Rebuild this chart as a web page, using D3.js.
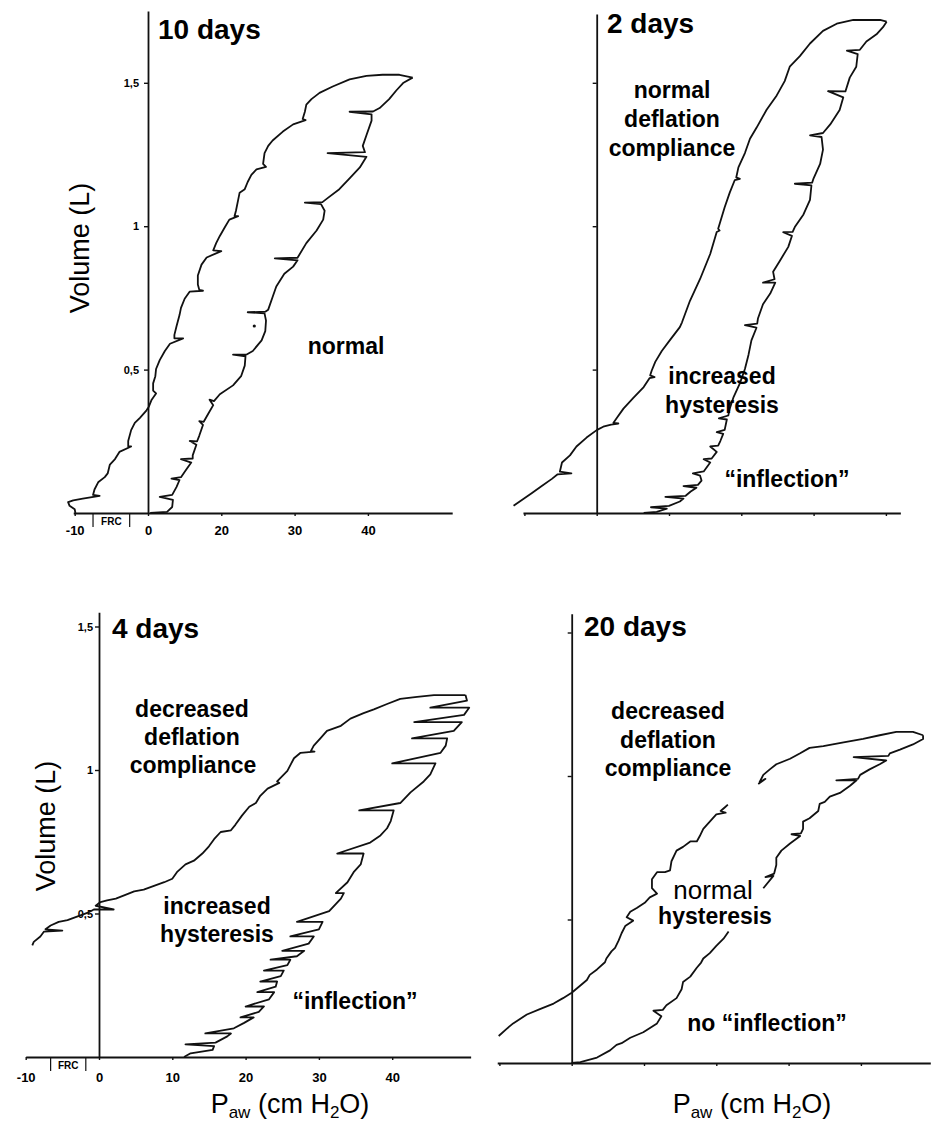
<!DOCTYPE html>
<html>
<head>
<meta charset="utf-8">
<script src="https://cdn.jsdelivr.net/npm/d3@7"></script>
<style>
body { margin: 0; background: #fff; }
svg { display: block; font-family: "Liberation Sans", Arial, sans-serif; }
</style>
</head>
<body>
<div id="chart"></div>
<script>
// Pressure-volume loops at 4 stages (P in cm H2O, V in L).
// Inflation limbs run from the bottom up to the tip, deflation limbs from the tip back down.

const yTickVals = [0.5, 1, 1.5];
const yTickLabels = ["0,5", "1", "1,5"];
const xTickVals10 = [-10, 0, 10, 20, 30];
const xTickLabels10 = ["-10", "0", "20", "30", "40"];   // as printed in the original panel
const xTickVals = [-10, 0, 10, 20, 30, 40];
const xTickLabels4 = ["-10", "0", "10", "20", "30", "40"];
const frc10 = [-7.5, -2.5];
const frc4 = [-6.6, -1.8];

const infl10 = [[0.3,0],[2.6,0.004],[3.3,0.021],[3.4,0.046],[1.6,0.056],[3.3,0.063],[3.9,0.091],[4.3,0.115],[3.2,0.12],[4.5,0.125],
  [5.2,0.151],[5.9,0.176],[4.5,0.188],[6.1,0.19],[6.1,0.201],[6.6,0.238],[5.7,0.251],[6.7,0.25],[7.0,0.27],[7.5,0.307],
  [7.0,0.32],[7.6,0.318],[8.2,0.345],[8.9,0.376],[8.4,0.395],[9.0,0.39],[9.8,0.414],[11.6,0.445],[12.7,0.477],[13.2,0.514],
  [13.3,0.546],[11.6,0.552],[13.4,0.552],[14.3,0.565],[15.5,0.602],[16.0,0.634],[16.1,0.671],[15.9,0.696],[13.6,0.7],[16.0,0.702],
  [16.4,0.709],[17.0,0.753],[17.5,0.79],[18.6,0.834],[19.8,0.859],[20.4,0.881],[17.3,0.888],[20.4,0.89],[21.6,0.941],[23.0,0.985],
  [23.9,1.023],[24.1,1.054],[23.6,1.077],[21.4,1.082],[23.8,1.084],[24.5,1.098],[26.1,1.129],[27.5,1.167],[28.9,1.205],[29.8,1.242],
  [24.5,1.255],[29.6,1.258],[29.3,1.28],[29.8,1.317],[30.5,1.368],[30.5,1.39],[27.5,1.399],[30.7,1.4],[31.6,1.412],[32.9,1.443],
  [33.9,1.474],[34.8,1.499],[36.1,1.518]];
const defl10 = [[36.1,1.518],[34.3,1.528],[32.0,1.528],[29.8,1.524],[27.5,1.512],[25.2,1.487],[23.4,1.465],[22.3,1.443],[21.6,1.424],
  [21.4,1.399],[21.1,1.374],[21.5,1.37],[19.8,1.355],[18.4,1.33],[17.0,1.299],[16.4,1.28],[15.9,1.255],[15.7,1.217],[16.1,1.207],
  [14.8,1.198],[14.1,1.179],[13.6,1.154],[13.2,1.129],[12.5,1.117],[12.3,1.092],[12.0,1.054],[11.8,1.035],[12.3,1.035],[11.1,1.023],
  [10.5,0.997],[9.8,0.966],[9.3,0.941],[8.9,0.916],[10.0,0.913],[8.0,0.891],[7.3,0.866],[6.8,0.828],[6.8,0.797],[7.0,0.778],
  [7.5,0.775],[5.7,0.772],[5.0,0.747],[4.5,0.715],[4.3,0.69],[3.9,0.652],[3.6,0.621],[3.6,0.609],[4.8,0.609],[3.0,0.59],
  [2.3,0.565],[1.6,0.533],[1.1,0.502],[1.0,0.477],[0.7,0.452],[0.7,0.427],[1.1,0.417],[0.5,0.395],[0.1,0.37],[-0.2,0.358],
  [-1.1,0.332],[-1.8,0.314],[-2.3,0.289],[-2.7,0.251],[-2.7,0.232],[-2.3,0.232],[-3.9,0.213],[-4.5,0.188],[-5.2,0.169],[-5.5,0.138],
  [-5.9,0.125],[-6.8,0.107],[-7.3,0.082],[-7.5,0.063],[-6.6,0.06],[-8.9,0.05],[-10.2,0.044],[-10.9,0.038],[-10.7,0.025],[-10.0,0.013],[-9.9,0]];
const dot10 = [[14.5, 0.652]];

const infl2 = [[6.5,0],[8.3,0.004],[9.7,0.015],[7.5,0.02],[10.0,0.025],[11.5,0.04],[12.0,0.05],[9.5,0.056],[12.3,0.06],[13.0,0.075],
  [13.8,0.088],[12.0,0.094],[14.0,0.098],[14.5,0.113],[14.3,0.13],[13.3,0.138],[14.8,0.145],[15.7,0.176],[14.8,0.188],[15.9,0.19],
  [16.6,0.213],[15.7,0.232],[16.8,0.235],[17.1,0.251],[17.5,0.276],[16.6,0.282],[17.7,0.29],[18.0,0.326],[16.9,0.33],[18.2,0.34],
  [18.4,0.364],[18.9,0.402],[19.8,0.452],[20.5,0.502],[21.0,0.552],[21.4,0.602],[22.1,0.646],[20.5,0.655],[22.2,0.66],[22.3,0.678],
  [23.0,0.728],[24.0,0.765],[24.7,0.803],[23.0,0.803],[24.6,0.815],[24.4,0.841],[25.3,0.878],[26.5,0.928],[27.0,0.966],[25.8,0.979],
  [27.1,0.98],[27.4,0.997],[28.6,1.041],[29.5,1.092],[29.7,1.142],[27.4,1.148],[29.8,1.152],[30.0,1.167],[30.9,1.217],[31.3,1.267],
  [31.1,1.311],[29.5,1.317],[31.3,1.325],[32.3,1.355],[33.6,1.405],[34.1,1.449],[32.0,1.471],[34.4,1.47],[35.0,1.518],[35.9,1.556],
  [36.1,1.6],[34.6,1.612],[36.4,1.615],[37.3,1.644],[38.7,1.669],[39.6,1.694],[40.1,1.713]];
const defl2 = [[40.1,1.713],[39.2,1.719],[35.5,1.719],[33.2,1.706],[31.3,1.681],[29.5,1.637],[28.1,1.593],[26.7,1.556],[26.0,1.506],
  [24.9,1.456],[23.5,1.406],[22.1,1.343],[21.2,1.305],[20.5,1.255],[19.6,1.205],[19.3,1.17],[19.8,1.165],[19.1,1.161],[18.4,1.117],
  [17.7,1.066],[16.8,0.991],[17.0,0.985],[16.6,0.98],[15.7,0.903],[14.3,0.816],[12.9,0.74],[11.8,0.665],[11.5,0.648],[10.1,0.602],
  [9.0,0.565],[8.1,0.527],[7.6,0.496],[7.4,0.48],[8.0,0.474],[7.3,0.47],[6.5,0.439],[5.1,0.402],[3.7,0.364],[2.8,0.332],[2.3,0.314],
  [3.0,0.312],[2.0,0.308],[0.9,0.301],[0,0.289],[-1.4,0.263],[-2.8,0.232],[-3.7,0.201],[-4.8,0.176],[-5.1,0.144],[-3.5,0.138],
  [-5.4,0.135],[-6.2,0.119],[-7.6,0.094],[-9.0,0.069],[-10.1,0.05],[-11.5,0.025]];

const infl4 = [[11.6,0],[12.5,0.013],[15.5,0.025],[15.7,0.038],[11.8,0.044],[15.9,0.05],[17.5,0.072],[18.0,0.082],[14.5,0.082],
  [18.4,0.1],[19.8,0.119],[21.1,0.138],[19.3,0.138],[21.8,0.157],[22.5,0.176],[20.0,0.176],[23.2,0.201],[23.9,0.226],[21.6,0.226],
  [24.1,0.245],[24.3,0.263],[22.0,0.263],[24.8,0.282],[25.2,0.301],[22.5,0.301],[25.7,0.32],[26.1,0.339],[23.4,0.339],[27.0,0.351],
  [28.0,0.37],[25.0,0.37],[28.6,0.395],[29.3,0.42],[26.1,0.42],[30.0,0.445],[30.5,0.471],[27.0,0.471],[31.4,0.508],[32.3,0.533],
  [33.0,0.552],[33.4,0.571],[32.3,0.571],[33.9,0.609],[34.8,0.646],[35.7,0.671],[36.1,0.709],[32.5,0.709],[37.0,0.747],[38.4,0.772],
  [39.3,0.797],[39.8,0.822],[40.2,0.859],[35.5,0.859],[41.1,0.885],[42.5,0.922],[44.3,0.96],[45.2,0.985],[45.9,1.023],[40.0,1.023],
  [46.6,1.06],[47.3,1.085],[47.5,1.11],[42.7,1.11],[48.4,1.136],[49.5,1.167],[43.0,1.167],[49.8,1.192],[50.5,1.217],[45.2,1.217],
  [50.2,1.242],[50.0,1.261]];
const defl4 = [[50.0,1.261],[47.95,1.261],[45.7,1.261],[43.4,1.255],[41.1,1.248],[39.3,1.23],[37.5,1.211],[36.1,1.198],[34.3,1.179],
  [33.0,1.154],[31.1,1.136],[30.2,1.11],[29.3,1.085],[28.9,1.066],[29.4,1.064],[27.5,1.06],[26.6,1.041],[25.7,0.997],[24.3,0.96],
  [24.6,0.955],[23.0,0.935],[22.0,0.91],[21.4,0.885],[20.5,0.872],[19.5,0.841],[18.6,0.809],[18.0,0.79],[16.6,0.784],[15.7,0.759],
  [15.0,0.734],[14.1,0.709],[12.95,0.684],[11.8,0.671],[10.7,0.646],[10.0,0.621],[8.9,0.609],[7.5,0.596],[6.1,0.583],[4.8,0.577],
  [3.6,0.565],[2.3,0.552],[1.1,0.546],[0.2,0.54],[-0.45,0.527],[2.0,0.514],[-0.7,0.514],[-1.6,0.502],[-3.0,0.489],[-4.3,0.477],
  [-5.5,0.471],[-6.6,0.458],[-7.3,0.445],[-5.0,0.44],[-7.5,0.437],[-8.0,0.42],[-8.9,0.401],[-9.1,0.389]];

const infl20 = [[0,0],[1.2,0.003],[3.5,0.019],[5.3,0.044],[6.2,0.063],[6.9,0.069],[8.1,0.088],[9.9,0.107],[11.8,0.138],[12.4,0.163],
  [11.3,0.182],[12.6,0.185],[13.1,0.201],[14.5,0.226],[15.2,0.257],[15.4,0.282],[16.4,0.301],[17.3,0.332],[17.9,0.35],[18.2,0.364],
  [19.1,0.383],[20.0,0.408],[21.0,0.433],[21.7,0.458],null,[26.5,0.609],[27.9,0.652],[26.8,0.648],[28.0,0.66],[28.3,0.69],
  [28.3,0.715],[29.0,0.74],[30.2,0.765],[31.6,0.791],[30.4,0.797],[31.7,0.8],[32.0,0.816],[32.0,0.841],[32.9,0.853],[34.1,0.878],
  [34.3,0.903],[35.0,0.91],[35.7,0.928],[37.1,0.941],[38.5,0.966],[39.4,0.985],[36.6,0.985],[39.6,0.99],[39.9,1.004],[41.2,1.023],
  [42.6,1.041],[43.5,1.054],[39.0,1.066],[43.8,1.07],[44.0,1.079],[45.4,1.092],[47.2,1.11],[48.6,1.129],[48.6,1.142]];
const defl20 = [[48.6,1.142],[47.2,1.154],[44.9,1.154],[42.6,1.142],[40.3,1.129],[37.6,1.117],[34.8,1.104],[32.9,1.098],[31.6,1.079],
  [30.2,1.06],[28.3,1.041],[27.4,1.023],[26.5,1.004],[26.0,0.979],[26.8,0.99],[25.8,0.972],null,[21.6,0.9],[21.2,0.891],[20.6,0.878],
  [21.3,0.872],[20.0,0.866],[19.1,0.841],[18.2,0.816],[17.7,0.79],[17.3,0.772],[16.4,0.772],[15.4,0.753],[14.5,0.74],[13.8,0.703],
  [13.6,0.671],[12.9,0.665],[11.8,0.665],[11.1,0.64],[11.1,0.609],[11.8,0.59],[10.8,0.577],[10.1,0.558],[9.0,0.54],[8.1,0.527],
  [7.6,0.508],[8.5,0.496],[7.4,0.477],[6.9,0.452],[6.5,0.427],[6.0,0.401],[5.5,0.389],[4.8,0.364],[4.6,0.351],[3.5,0.326],
  [2.5,0.307],[2.1,0.289],[1.2,0.27],[0,0.245],[-1.2,0.226],[-2.5,0.207],[-4.4,0.188],[-6.2,0.169],[-8.1,0.138],[-9.0,0.119],[-10.1,0.094]];

// page layout
const width = 931, height = 1127;
const svg = d3.select("#chart").append("svg").attr("width", width).attr("height", height);

const bold = 23;
const panels = [
  { infl: infl10, defl: defl10, dots: dot10, ox: 148, oy: 513, kx: 7.33, ky: 286.8, xDom: [-10.2, 41.5], yTop: 1.75,
    xTicks: xTickVals10, xLabels: xTickLabels10, yLabels: yTickLabels, frc: frc10, yPad: 5, xPad: 10,
    texts: [["10 days", 158, 29, 28, "bold", "start"], ["normal", 346, 346, bold, "bold", "middle"]] },
  { infl: infl2, defl: defl2, dots: [], ox: 596.7, oy: 513, kx: 7.23, ky: 286.8, xDom: [-10.2, 42], yTop: 1.74,
    xTicks: xTickVals, xLabels: null, yLabels: null, frc: null,
    texts: [["2 days", 607, 23, 28, "bold", "start"], ["normal", 672, 90, bold, "bold", "middle"],
      ["deflation", 672, 119, bold, "bold", "middle"], ["compliance", 672, 148, bold, "bold", "middle"],
      ["increased", 722, 376, bold, "bold", "middle"], ["hysteresis", 722, 405, bold, "bold", "middle"],
      ["\u201cinflection\u201d", 787, 479, bold, "bold", "middle"]] },
  { infl: infl4, defl: defl4, dots: [], ox: 99, oy: 1057, kx: 7.33, ky: 287, xDom: [-10, 50.7], yTop: 1.55,
    xTicks: xTickVals, xLabels: xTickLabels4, yLabels: yTickLabels, frc: frc4, yPad: 2, xPad: 13,
    texts: [["4 days", 112, 628, 28, "bold", "start"], ["decreased", 192, 709, bold, "bold", "middle"],
      ["deflation", 192, 737, bold, "bold", "middle"], ["compliance", 193, 765, bold, "bold", "middle"],
      ["increased", 217, 906, bold, "bold", "middle"], ["hysteresis", 217, 934, bold, "bold", "middle"],
      ["\u201cinflection\u201d", 355, 1001, bold, "bold", "middle"]] },
  { infl: infl20, defl: defl20, dots: [], ox: 571.7, oy: 1063, kx: 7.23, ky: 287, xDom: [-10.3, 49.6], yTop: 1.565,
    xTicks: xTickVals, xLabels: null, yLabels: null, frc: null,
    texts: [["20 days", 584, 626, 28, "bold", "start"], ["decreased", 668, 711, bold, "bold", "middle"],
      ["deflation", 668, 740, bold, "bold", "middle"], ["compliance", 668, 768, bold, "bold", "middle"],
      ["normal", 713, 890, 26, "normal", "middle"], ["hysteresis", 715, 916, bold, "bold", "middle"],
      ["no \u201cinflection\u201d", 767, 1023, bold, "bold", "middle"]] }
];

panels.forEach(p => {
  const x = d3.scaleLinear().domain(p.xDom).range([p.ox + p.xDom[0] * p.kx, p.ox + p.xDom[1] * p.kx]);
  const y = d3.scaleLinear().domain([0, p.yTop]).range([p.oy, p.oy - p.yTop * p.ky]);
  const g = svg.append("g");

  // axes
  const xAxis = d3.axisBottom(x).tickValues(p.xTicks).tickSize(3).tickSizeOuter(0)
    .tickPadding(p.xPad || 3)
    .tickFormat((d, i) => p.xLabels ? p.xLabels[i] : "");
  const yAxis = d3.axisLeft(y).tickValues(yTickVals).tickSize(4).tickSizeOuter(0)
    .tickPadding(p.yPad || 3)
    .tickFormat((d, i) => p.yLabels ? p.yLabels[i] : "");

  const gx = g.append("g").attr("transform", `translate(0,${y(0)})`).call(xAxis);
  const gy = g.append("g").attr("transform", `translate(${x(0)},0)`).call(yAxis);
  [gx, gy].forEach(a => {
    a.select(".domain").attr("stroke", "#111").attr("stroke-width", 1.8);
    a.selectAll(".tick line").attr("stroke", "#111").attr("stroke-width", 1.4);
    a.selectAll("text").attr("fill", "#000").attr("font-weight", "bold")
      .attr("font-family", "'Liberation Sans', Arial, sans-serif");
  });
  gx.selectAll("text").attr("font-size", 13);
  gy.selectAll("text").attr("font-size", 11);

  // FRC bracket under the x axis
  if (p.frc) {
    p.frc.forEach(v => {
      g.append("line").attr("x1", x(v)).attr("x2", x(v)).attr("y1", y(0)).attr("y2", y(0) + 14)
        .attr("stroke", "#111").attr("stroke-width", 1.2);
    });
    g.append("text").attr("x", x((p.frc[0] + p.frc[1]) / 2)).attr("y", y(0) + 12)
      .attr("text-anchor", "middle").attr("font-size", 10).attr("font-weight", "bold").text("FRC");
  }

  // loops
  const line = d3.line().defined(d => d !== null).x(d => x(d[0])).y(d => y(d[1]));
  [p.infl, p.defl].forEach(arr => {
    g.append("path").datum(arr).attr("d", line)
      .attr("fill", "none").attr("stroke", "#111").attr("stroke-width", 1.8)
      .attr("stroke-linejoin", "round");
  });
  g.selectAll("circle.dot").data(p.dots).join("circle").attr("class", "dot")
    .attr("cx", d => x(d[0])).attr("cy", d => y(d[1])).attr("r", 1.6).attr("fill", "#111");

  // annotations
  p.texts.forEach(t => {
    g.append("text").attr("x", t[1]).attr("y", t[2]).attr("dy", "0.35em")
      .attr("font-size", t[3]).attr("font-weight", t[4]).attr("text-anchor", t[5])
      .attr("fill", "#000").text(t[0]);
  });
});

// axis titles
[[80, 248], [46, 826]].forEach(c => {
  svg.append("text").attr("transform", `translate(${c[0]},${c[1]}) rotate(-90)`)
    .attr("text-anchor", "middle").attr("dy", "0.35em").attr("font-size", 27).text("Volume (L)");
});
[290, 752].forEach(cx => {
  const t = svg.append("text").attr("x", cx).attr("y", 1113).attr("text-anchor", "middle").attr("font-size", 27);
  t.append("tspan").text("P");
  t.append("tspan").attr("font-size", 17).attr("dy", 5).text("aw");
  t.append("tspan").attr("dy", -5).text(" (cm H");
  t.append("tspan").attr("font-size", 17).attr("dy", 5).text("2");
  t.append("tspan").attr("dy", -5).text("O)");
});
</script>
</body>
</html>
